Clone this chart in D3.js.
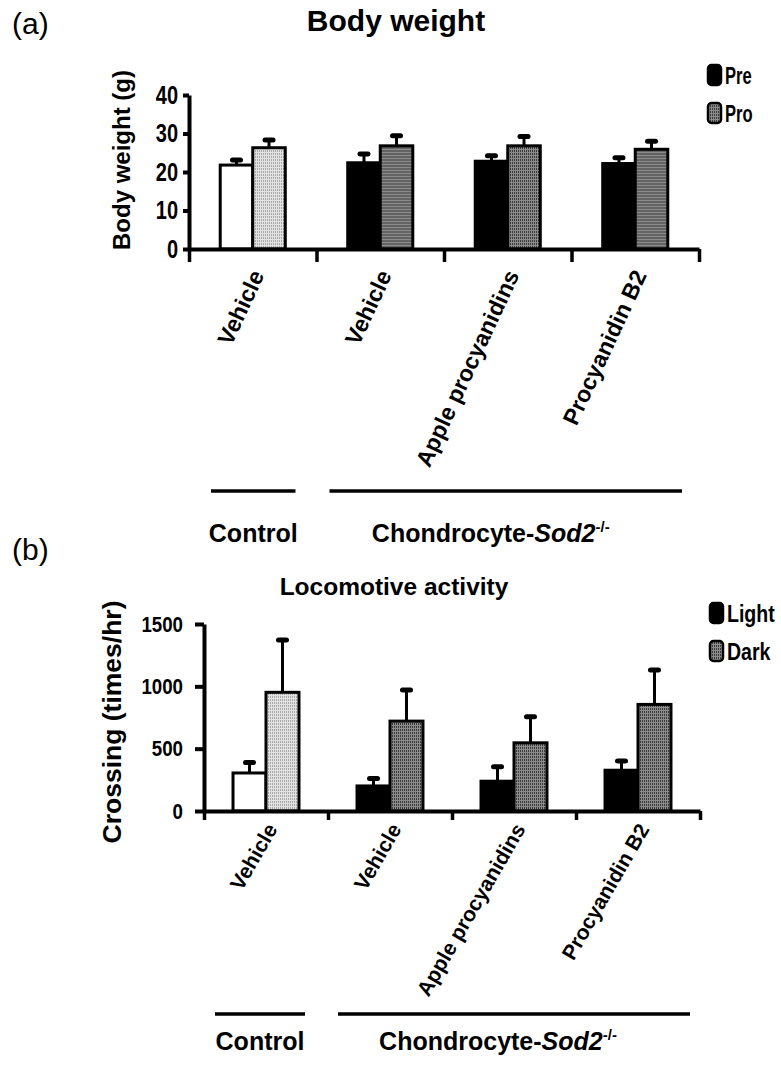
<!DOCTYPE html>
<html><head><meta charset="utf-8">
<script src="https://cdn.jsdelivr.net/npm/d3@7"></script>
<style>body{margin:0;background:#fff} svg{display:block}</style>
</head><body>
<svg id="c" width="781" height="1067"></svg>
<script>
// ---------- data ----------
const categories = ["Vehicle", "Vehicle", "Apple procyanidins", "Procyanidin B2"];
const groupLabels = ["Control", "Chondrocyte-"];
const groupItalic = ["", "Sod2"];
const groupSup = ["", "-/-"];
const groupStart = [0, 1];
const groupEnd = [0, 3];

const bwSeries = ["Pre", "Pro"];
const bwPre = [21.8, 22.4, 22.8, 22.2];
const bwPreErr = [1.3, 2.3, 1.4, 1.5];
const bwPro = [26.3, 26.8, 26.8, 25.9];
const bwProErr = [2.0, 2.6, 2.4, 2.1];
const bwTicks = [0, 10, 20, 30, 40];

const locoSeries = ["Light", "Dark"];
const locoLight = [305, 201, 239, 327];
const locoLightErr = [84, 59, 115, 75];
const locoDark = [952, 721, 547, 855];
const locoDarkErr = [420, 249, 209, 276];
const locoTicks = [0, 500, 1000, 1500];

// ---------- setup ----------
const svg = d3.select("#c");
const defs = svg.append("defs");
function stripes(id, bg, fg) {
  const p = defs.append("pattern").attr("id", id).attr("patternUnits", "userSpaceOnUse")
    .attr("width", 2).attr("height", 3);
  p.append("rect").attr("width", 2).attr("height", 3).attr("fill", bg);
  p.append("rect").attr("width", 1).attr("height", 2).attr("fill", fg);
}
stripes("patLight", "#e2e2e2", "#a9a9a9");
stripes("patDark", "#8c8c8c", "#3a3a3a");

const MAIN = "'Liberation Sans', Arial, sans-serif";

function squeeze(sel, s) {
  sel.each(function () {
    const t = d3.select(this);
    const x = +t.attr("x") || 0;
    t.attr("transform", `translate(${x},0) scale(${s},1) translate(${-x},0)`);
  });
}

function fillFor(i, j) {
  if (j === 0) return i === 0 ? "#fff" : "#000";
  return i === 0 ? "url(#patLight)" : "url(#patDark)";
}

function panel(o) {
  const g = svg.append("g");
  const x0 = d3.scaleBand().domain(d3.range(categories.length)).range([o.xl, o.xr]);
  const x1 = d3.scaleBand().domain(o.series).range([0, x0.bandwidth()]).paddingOuter(o.pad);
  const y = d3.scaleLinear().domain([0, o.max]).range([o.yb, o.yt]);
  const xb = d3.scaleLinear().domain([0, categories.length]).range([o.xl, o.xr]);

  // title and panel letter
  g.append("text").attr("x", 12).attr("y", o.letterY).text(o.letter)
    .style("font-family", MAIN).style("font-size", "30px");
  g.append("text").attr("x", o.titleX).attr("y", o.titleY).attr("text-anchor", "middle")
    .text(o.title).style("font-family", MAIN).style("font-size", o.titleFont + "px").style("font-weight", "bold");

  // y label
  g.append("text").attr("transform", `translate(${o.ylx},${o.yly}) rotate(-90)`)
    .attr("text-anchor", "middle").text(o.ylabel)
    .style("font-family", MAIN).style("font-size", o.ylFont + "px").style("font-weight", "bold");

  // bars
  const rows = categories.map((c, i) => ({
    i, items: o.series.map((s, j) => ({ i, j, s, v: o.vals[j][i], e: o.errs[j][i] }))
  }));
  const cg = g.selectAll(".cat").data(rows).join("g")
    .attr("transform", d => `translate(${x0(d.i)},0)`);
  cg.selectAll(".err").data(d => d.items).join("line")
    .attr("x1", d => x1(d.s) + x1.bandwidth() / 2).attr("x2", d => x1(d.s) + x1.bandwidth() / 2)
    .attr("y1", d => y(d.v)).attr("y2", d => y(d.v + d.e))
    .attr("stroke", "#000").attr("stroke-width", 3);
  cg.selectAll(".cap").data(d => d.items).join("line")
    .attr("x1", d => x1(d.s) + x1.bandwidth() / 2 - 4).attr("x2", d => x1(d.s) + x1.bandwidth() / 2 + 4)
    .attr("y1", d => y(d.v + d.e)).attr("y2", d => y(d.v + d.e))
    .attr("stroke", "#000").attr("stroke-width", 5).attr("stroke-linecap", "round");
  cg.selectAll(".bar").data(d => d.items).join("rect")
    .attr("x", d => x1(d.s)).attr("y", d => y(d.v))
    .attr("width", x1.bandwidth()).attr("height", d => y(0) - y(d.v))
    .attr("fill", d => fillFor(d.i, d.j)).attr("stroke", "#000").attr("stroke-width", 3);

  // y axis
  const ya = g.append("g").attr("transform", `translate(${o.xl},0)`)
    .call(d3.axisLeft(y).tickValues(o.ticks).tickFormat(d3.format("d"))
      .tickSize(o.ytick).tickPadding(o.ypad).tickSizeOuter(0));
  ya.select(".domain").attr("stroke-width", 4);
  ya.selectAll(".tick line").attr("stroke-width", 4);
  const tt = ya.selectAll(".tick text").style("font-family", MAIN).style("font-size", o.tickFont + "px")
    .style("font-weight", "bold").attr("fill", "#000");
  squeeze(tt, o.tickSqueeze);

  // x axis (category boundaries)
  const xa = g.append("g").attr("transform", `translate(0,${o.yb})`)
    .call(d3.axisBottom(xb).tickValues(d3.range(categories.length + 1)).tickFormat("")
      .tickSize(o.xtick).tickSizeOuter(0));
  xa.select(".domain").attr("stroke-width", 4);
  xa.selectAll(".tick line").attr("stroke-width", 3.5);

  // category labels
  g.selectAll(".clab").data(categories).join("text")
    .attr("transform", (d, i) => `translate(${x0(i) + x0.bandwidth() / 2 + 12},${o.yb + o.labOff}) rotate(${o.labAngle})`)
    .attr("text-anchor", "end").text(d => d)
    .style("font-family", MAIN).style("font-size", o.labFont + "px").style("font-weight", "bold");

  // group lines and labels
  groupLabels.forEach((lab, k) => {
    const a = x0(groupStart[k]) + o.ginL[k], b = x0(groupEnd[k]) + x0.bandwidth() - o.ginR[k];
    g.append("line").attr("x1", a).attr("x2", b).attr("y1", o.gy).attr("y2", o.gy)
      .attr("stroke", "#000").attr("stroke-width", 3.5);
    const t = g.append("text").attr("x", (a + b) / 2 + o.gShift[k]).attr("y", o.gty).attr("text-anchor", "middle")
      .style("font-family", MAIN).style("font-size", "25px").style("font-weight", "bold");
    t.append("tspan").text(lab);
    if (groupItalic[k]) t.append("tspan").style("font-style", "italic").text(groupItalic[k]);
    if (groupSup[k]) t.append("tspan").attr("dy", -10).style("font-size", "15px").text(groupSup[k]);
  });

  // legend
  o.series.forEach((s, j) => {
    const ly = o.legY + j * o.legStep;
    g.append("rect").attr("x", o.legX).attr("y", ly).attr("width", 13).attr("height", 20)
      .attr("rx", 3.5).attr("fill", j === 0 ? "#000" : "url(#patDark)").attr("stroke", "#000").attr("stroke-width", 2.5);
    const lt = g.append("text").attr("x", o.legX + 17).attr("y", ly + 19).text(s)
      .style("font-family", MAIN).style("font-size", "23px").style("font-weight", "bold");
    squeeze(lt, o.legSqueeze);
  });
}

panel({
  letter: "(a)", letterY: 34, title: "Body weight", titleX: 396, titleY: 31, titleFont: 30,
  ylabel: "Body weight (g)", ylx: 130, yly: 160, ylFont: 24,
  series: bwSeries, vals: [bwPre, bwPro], errs: [bwPreErr, bwProErr],
  max: 40, ticks: bwTicks, xl: 189, xr: 699, yb: 249, yt: 95, pad: 0.96,
  ytick: 6, ypad: 5, xtick: 13, tickFont: 25, tickSqueeze: 0.8,
  labOff: 26, labFont: 23, labAngle: -65,
  gy: 491, gty: 542, ginL: [22, 13], ginR: [21, 17], gShift: [0, -15],
  legX: 708, legY: 65, legStep: 38, legSqueeze: 0.72
});
panel({
  letter: "(b)", letterY: 560, title: "Locomotive activity", titleX: 394, titleY: 595, titleFont: 24.5,
  ylabel: "Crossing (times/hr)", ylx: 121, yly: 722, ylFont: 26.5,
  series: locoSeries, vals: [locoLight, locoDark], errs: [locoLightErr, locoDarkErr],
  max: 1500, ticks: locoTicks, xl: 204, xr: 700, yb: 811, yt: 624, pad: 0.88,
  ytick: 9, ypad: 12, xtick: 9, tickFont: 22, tickSqueeze: 0.85,
  labOff: 18, labFont: 21, labAngle: -60,
  gy: 1014, gty: 1050, ginL: [11, 10], ginR: [23, 10], gShift: [0, -16],
  legX: 710, legY: 603, legStep: 38, legSqueeze: 0.85
});
</script>
</body></html>
